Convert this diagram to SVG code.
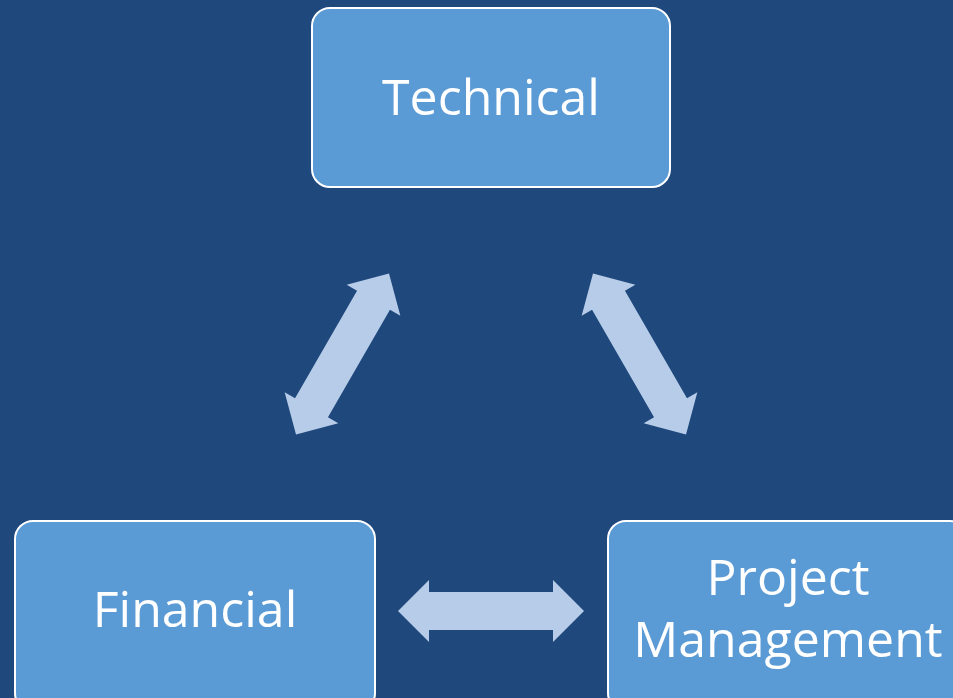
<svg xmlns="http://www.w3.org/2000/svg" width="953" height="698" viewBox="0 0 953 698">
<defs>
<style>
.box{fill:#5B9BD5;stroke:#FFFFFF;stroke-width:2}
.lbl{font-family:"Open Sans","Noto Sans",sans-serif;font-size:50px;fill:#FFFFFF;text-anchor:middle}
.arr{fill:#B7CCE8}
</style>
<polygon id="dbl" class="arr" points="-93,0 -62,-31 -62,-19 62,-19 62,-31 93,0 62,31 62,19 -62,19 -62,31"/>
</defs>
<rect x="0" y="0" width="953" height="698" fill="#1F497D"/>
<g id="technical">
<rect class="box" x="312" y="8" width="358" height="179" rx="18"/>
<text class="lbl" x="491" y="115">Technical</text>
</g>
<g id="financial">
<rect class="box" x="15" y="521" width="360" height="190" rx="18"/>
<text class="lbl" x="195" y="627">Financial</text>
</g>
<g id="project-management">
<rect class="box" x="608" y="521" width="360" height="190" rx="18"/>
<text class="lbl" x="788" y="595">Project</text>
<text class="lbl" x="788" y="657">Management</text>
</g>
<g id="connectors">
<use href="#dbl" transform="translate(342.5,354) rotate(-60)"/>
<use href="#dbl" transform="translate(639.5,354) rotate(60)"/>
<use href="#dbl" transform="translate(491,611)"/>
</g>
</svg>
